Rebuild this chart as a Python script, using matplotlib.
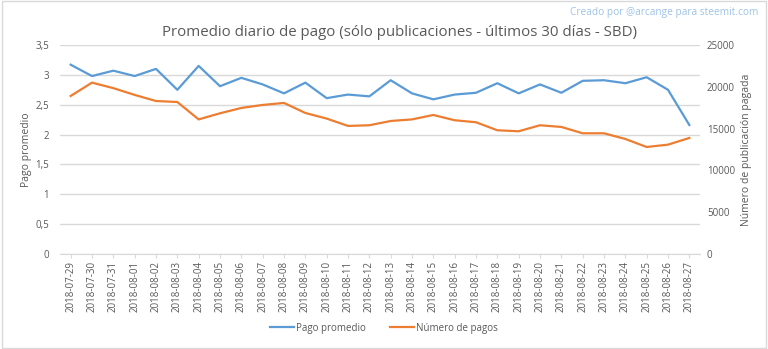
import matplotlib
matplotlib.use("Agg")
import matplotlib.pyplot as plt
from matplotlib.patches import Rectangle

dates = ["2018-07-29", "2018-07-30", "2018-07-31", "2018-08-01", "2018-08-02", "2018-08-03",
         "2018-08-04", "2018-08-05", "2018-08-06", "2018-08-07", "2018-08-08", "2018-08-09",
         "2018-08-10", "2018-08-11", "2018-08-12", "2018-08-13", "2018-08-14", "2018-08-15",
         "2018-08-16", "2018-08-17", "2018-08-18", "2018-08-19", "2018-08-20", "2018-08-21",
         "2018-08-22", "2018-08-23", "2018-08-24", "2018-08-25", "2018-08-26", "2018-08-27"]
pago_promedio = [3.17, 2.98, 3.07, 2.98, 3.10, 2.75, 3.15, 2.81, 2.95, 2.84, 2.69, 2.87,
                 2.61, 2.67, 2.64, 2.91, 2.69, 2.59, 2.67, 2.70, 2.86, 2.69, 2.84, 2.70,
                 2.90, 2.91, 2.86, 2.96, 2.75, 2.16]
numero_pagos = [18900, 20500, 19840, 19030, 18300, 18180, 16100, 16830, 17470, 17830, 18070, 16870,
                16200, 15320, 15400, 15910, 16100, 16630, 16000, 15760, 14800, 14680, 15400, 15200,
                14440, 14440, 13760, 12800, 13080, 13880]
left_ticks = [0, 0.5, 1, 1.5, 2, 2.5, 3, 3.5]
left_labels = ["0", "0,5", "1", "1,5", "2", "2,5", "3", "3,5"]
right_ticks = [0, 5000, 10000, 15000, 20000, 25000]

plt.rcParams['font.family'] = ['Open Sans', 'DejaVu Sans']
GRAY = "#595959"
BLUE = "#5B9BD5"
ORANGE = "#ED7D31"

fig = plt.figure(figsize=(7.68, 3.49), dpi=100)
fig.patches.append(Rectangle((0.002, 0.003), 0.996, 0.994, transform=fig.transFigure,
                             fill=False, edgecolor="#D9D9D9", lw=1))
ax = fig.add_axes([60/768, 1-254/349, 640/768, 209/349])
x = list(range(len(dates)))
l1, = ax.plot(x, pago_promedio, color=BLUE, lw=1.6, label="Pago promedio")
ax.set_ylim(0, 3.5)
ax.set_xlim(-0.5, len(dates)-0.5)
ax.set_yticks(left_ticks)
ax.set_yticklabels(left_labels)
ax.grid(axis='y', color="#D9D9D9", lw=1)
ax.set_axisbelow(True)
for s in ax.spines.values():
    s.set_visible(False)
ax.spines['bottom'].set_visible(True)
ax.spines['bottom'].set_color("#D9D9D9")
ax.set_xticks(x)
ax.set_xticklabels(dates, rotation=90, fontsize=7, color=GRAY)
ax.tick_params(axis='x', length=3, color="#D9D9D9", pad=2)
ax.tick_params(axis='y', length=0, labelsize=7, labelcolor=GRAY, pad=8)
ax.set_ylabel("Pago promedio", fontsize=7.5, color=GRAY)
ax.yaxis.set_label_coords((32-60)/640, 0.5)

ax2 = ax.twinx()
l2, = ax2.plot(x, numero_pagos, color=ORANGE, lw=1.6, label="Número de pagos")
ax2.set_ylim(0, 25000)
ax2.set_yticks(right_ticks)
for s in ax2.spines.values():
    s.set_visible(False)
ax2.tick_params(axis='y', length=0, labelsize=7, labelcolor=GRAY, pad=5)
ax2.set_ylabel("Número de publicación pagada", fontsize=7.5, color=GRAY)
ax2.yaxis.set_label_coords((741-60)/640, 0.5)

fig.text(400/768, 1-33/349, "Promedio diario de pago (sólo publicaciones - últimos 30 días - SBD)",
         ha='center', va='center', fontsize=10.8, color=GRAY)
fig.text(1-10/768, 1-13/349, "Creado por @arcange para steemit.com", ha='right', va='center',
         fontsize=7.3, color="#9DC3E6")
fig.legend(handles=[l1, l2], loc='center', bbox_to_anchor=(0.5, 1-328/349), ncol=2,
           frameon=False, fontsize=7, labelcolor=GRAY, handlelength=2.5, handletextpad=0.2,
           columnspacing=2.5)
fig.savefig("out.png", dpi=100)
